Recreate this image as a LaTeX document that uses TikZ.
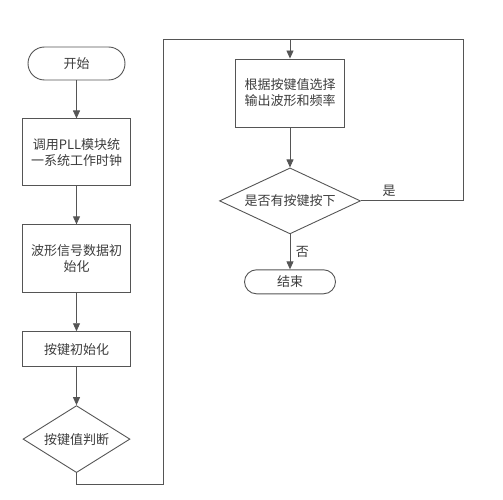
\documentclass[tikz,border=0pt]{standalone}
\usepackage{fontspec}
\setmainfont{Noto Sans CJK SC}
\usepackage{tikz}
\usetikzlibrary{arrows.meta,positioning,shapes.geometric}
\definecolor{trait}{RGB}{85,85,85}
\definecolor{texte}{RGB}{60,60,60}
\tikzset{
  boite/.style={rectangle, draw=trait, line width=0.9pt, align=center, text=texte,
                font=\fontsize{13}{16}\selectfont, inner sep=2pt, minimum width=#1},
  terme/.style={rectangle, rounded corners=#1, draw=trait, line width=0.9pt, text=texte,
                font=\fontsize{13}{16}\selectfont, minimum height=2*#1},
  choix/.style={diamond, aspect=2, draw=trait, line width=0.9pt, text=texte, inner sep=1pt,
                font=\fontsize{13}{16}\selectfont, minimum width=#1},
  arr/.style={-{Triangle[length=8pt,width=7pt]}, line width=0.9pt, draw=trait},
  lien/.style={line width=0.9pt, draw=trait},
  etiq/.style={text=texte, font=\fontsize{13}{16}\selectfont},
}
\begin{document}
\begin{tikzpicture}[x=1pt, y=-1pt, node distance=38pt]
  \useasboundingbox (0,0) rectangle (503,500);
  % colonne de gauche
  \node[terme=16.5pt, minimum width=97pt] (s) at (76.5,63.5) {开始};
  \node[boite=108pt, minimum height=67pt, below=of s] (a) {调用PLL模块统\\一系统工作时钟};
  \node[boite=108pt, minimum height=68pt, below=of a] (b) {波形信号数据初\\始化};
  \node[boite=108pt, minimum height=35pt, below=of b] (c) {按键初始化};
  \node[choix=107pt, minimum height=67pt, below=of c] (d) {按键值判断};
  \draw[arr] (s) -- (a); \draw[arr] (a) -- (b); \draw[arr] (b) -- (c); \draw[arr] (c) -- (d);
  % colonne de droite
  \node[boite=109pt, minimum height=68pt] (e) at (290,93) {根据按键值选择\\输出波形和频率};
  \node[choix=141pt, minimum height=66pt, below=40pt of e] (f) {是否有按键按下};
  \node[terme=12pt, minimum width=91pt, below=35pt of f] (g) {结束};
  \coordinate (j) at (290,39);
  \coordinate (lg) at (163,484);
  \coordinate (ld) at (463,39);
  \draw[arr] (d.south) |- (lg) |- (j) -- (e);
  \draw[arr] (e) -- (f);
  \draw[lien] (f.east) -| (ld) -- (j);
  \node[etiq] (oui) at (389,191) {是};
  \draw[arr] (f) -- node[etiq, right=2pt] (non) {否} (g);
\end{tikzpicture}
\end{document}
